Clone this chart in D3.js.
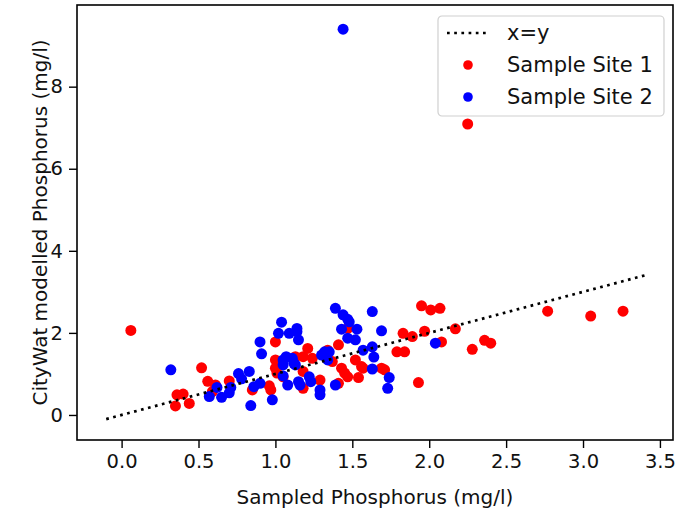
<!DOCTYPE html>
<html>
<head>
<meta charset="utf-8">
<script src="https://cdn.jsdelivr.net/npm/d3@7"></script>
<style>
  body { margin: 0; background: #fff; }
  text { font-family: "DejaVu Sans", sans-serif; }
</style>
</head>
<body>
<div id="chart"></div>
<script>
// Sample Site 1 (red), [sampled, modelled]
var site1 = [
  [0.06, 2.06], [0.35, 0.22], [0.36, 0.49], [0.40, 0.51], [0.44, 0.28],
  [0.52, 1.15], [0.56, 0.82], [0.59, 0.57], [0.61, 0.73], [0.70, 0.83],
  [0.85, 0.61], [0.96, 0.71], [0.97, 0.61], [1.00, 1.78], [1.00, 1.34],
  [1.00, 1.14], [1.01, 1.02], [1.05, 0.93], [1.13, 1.42], [1.18, 1.42],
  [1.21, 1.62], [1.24, 1.38], [1.18, 1.06], [1.18, 0.65], [1.29, 0.85],
  [1.34, 1.58], [1.37, 1.30], [1.41, 1.71], [1.47, 2.11], [1.52, 1.34],
  [1.56, 1.18], [1.57, 1.14], [1.43, 1.14], [1.45, 1.02], [1.47, 0.93],
  [1.54, 0.91], [1.41, 0.77], [1.69, 1.14], [1.71, 1.10], [1.79, 1.54],
  [1.84, 1.54], [1.83, 1.99], [1.89, 1.91], [1.95, 2.66], [2.01, 2.56],
  [2.07, 2.60], [1.97, 2.04], [2.08, 1.78], [2.17, 2.10], [2.28, 1.60],
  [2.36, 1.82], [2.40, 1.75], [1.93, 0.79], [2.77, 2.53], [3.05, 2.41],
  [3.26, 2.53], [2.25, 7.09]
];
// Sample Site 2 (blue)
var site2 = [
  [0.32, 1.10], [0.57, 0.45], [0.62, 0.67], [0.65, 0.43], [0.70, 0.54],
  [0.71, 0.67], [0.76, 1.01], [0.78, 0.88], [0.83, 1.06], [0.84, 0.23],
  [0.86, 0.69], [0.90, 0.77], [0.98, 0.37], [0.90, 1.78], [0.91, 1.49],
  [1.02, 1.99], [1.04, 2.26], [1.05, 1.34], [1.07, 1.42], [1.11, 1.38],
  [1.12, 1.26], [1.05, 1.22], [1.13, 1.22], [1.05, 0.95], [1.08, 0.73],
  [1.09, 1.99], [1.14, 2.03], [1.15, 1.83], [1.14, 2.11], [1.15, 0.81],
  [1.16, 0.73], [1.22, 0.93], [1.23, 0.81], [1.29, 0.61], [1.29, 0.49],
  [1.30, 1.46], [1.32, 1.54], [1.35, 1.54], [1.34, 1.34], [1.39, 2.60],
  [1.44, 2.44], [1.47, 2.33], [1.48, 2.27], [1.43, 2.09], [1.53, 2.09],
  [1.47, 1.87], [1.52, 1.83], [1.57, 1.58], [1.63, 2.52], [1.69, 2.05],
  [1.63, 1.66], [1.64, 1.41], [1.63, 1.12], [1.74, 0.91], [1.73, 0.65],
  [1.39, 0.73], [2.04, 1.75], [1.44, 9.40]
];
// x=y reference line end points
var lineX = [-0.1, 3.42];
var xTicks = [0, 0.5, 1, 1.5, 2, 2.5, 3, 3.5];
var yTicks = [0, 2, 4, 6, 8];
var legendLabels = ["x=y", "Sample Site 1", "Sample Site 2"];

function getConfig(){
    let width = 678, height = 515;
    let margin = {top: 5, right: 5, bottom: 75, left: 77};
    let plot = {};
    plot.w = width - margin.left - margin.right;
    plot.h = height - margin.top - margin.bottom;
    plot.tickSize = 19.5;
    plot.labelSize = 20;
    plot.legendSize = 21;
    return {width, height, margin, plot};
}

function showData(){
    let config = getConfig();
    let svg = d3.select("#chart").append("svg")
        .attr("width", config.width)
        .attr("height", config.height);

    let xScale = d3.scaleLinear().domain([-0.29, 3.585]).range([0, config.plot.w]);
    let yScale = d3.scaleLinear().domain([-0.61, 9.99]).range([config.plot.h, 0]);

    let g = svg.append("g")
        .attr("transform", `translate(${config.margin.left},${config.margin.top})`);

    // points: site 1 then site 2 on top
    g.append("g").selectAll("circle").data(site1).join("circle")
        .attr("cx", d => xScale(d[0]))
        .attr("cy", d => yScale(d[1]))
        .attr("r", 5.5)
        .attr("fill", "#ff0000");
    g.append("g").selectAll("circle").data(site2).join("circle")
        .attr("cx", d => xScale(d[0]))
        .attr("cy", d => yScale(d[1]))
        .attr("r", 5.5)
        .attr("fill", "#0000ff");

    // dotted x=y line (drawn above the scatter like matplotlib)
    g.append("line")
        .attr("x1", xScale(lineX[0])).attr("y1", yScale(lineX[0]))
        .attr("x2", xScale(lineX[1])).attr("y2", yScale(lineX[1]))
        .attr("stroke", "black")
        .attr("stroke-width", 2.7)
        .attr("stroke-dasharray", "2.7,4.5");

    // axes
    let xAx = g.append("g")
        .attr("transform", `translate(0,${config.plot.h})`)
        .call(d3.axisBottom(xScale).tickValues(xTicks).tickFormat(d3.format(".1f")).tickSize(8).tickPadding(6));
    let yAx = g.append("g")
        .call(d3.axisLeft(yScale).tickValues(yTicks).tickFormat(d3.format("d")).tickSize(8).tickPadding(6));
    [xAx, yAx].forEach(ax => {
        ax.select(".domain").remove();
        ax.selectAll(".tick line").attr("stroke", "black").attr("stroke-width", 1.4);
        ax.selectAll(".tick text")
          .attr("font-size", config.plot.tickSize)
          .attr("font-family", "DejaVu Sans")
          .attr("fill", "#111");
    });

    // frame
    g.append("rect")
        .attr("width", config.plot.w).attr("height", config.plot.h)
        .attr("fill", "none").attr("stroke", "black").attr("stroke-width", 1.6);

    // axis titles
    svg.append("text")
        .attr("x", config.margin.left + config.plot.w / 2)
        .attr("y", 504)
        .attr("text-anchor", "middle")
        .attr("font-size", config.plot.labelSize)
        .attr("fill", "#111")
        .text("Sampled Phosphorus (mg/l)");
    svg.append("text")
        .attr("transform", `translate(47,${config.margin.top + config.plot.h / 2}) rotate(-90)`)
        .attr("text-anchor", "middle")
        .attr("font-size", config.plot.labelSize)
        .attr("fill", "#111")
        .text("CityWat modelled Phosphorus (mg/l)");

    // legend
    let leg = svg.append("g").attr("transform", "translate(438,16)");
    leg.append("rect")
        .attr("width", 226).attr("height", 100)
        .attr("rx", 4)
        .attr("fill", "white").attr("fill-opacity", 0.8)
        .attr("stroke", "#d0d0d0").attr("stroke-width", 1.2);
    let rowY = [17, 49, 81];
    leg.append("line")
        .attr("x1", 9).attr("x2", 51)
        .attr("y1", rowY[0]).attr("y2", rowY[0])
        .attr("stroke", "black").attr("stroke-width", 2.7)
        .attr("stroke-dasharray", "2.7,4.5");
    leg.append("circle").attr("cx", 30).attr("cy", rowY[1]).attr("r", 4.8).attr("fill", "#ff0000");
    leg.append("circle").attr("cx", 30).attr("cy", rowY[2]).attr("r", 4.8).attr("fill", "#0000ff");
    leg.selectAll("text.lab").data(legendLabels).join("text")
        .attr("class", "lab")
        .attr("x", 69)
        .attr("y", (d, i) => rowY[i])
        .attr("dy", "0.35em")
        .attr("font-size", config.plot.legendSize)
        .attr("fill", "#111")
        .text(d => d);
}

showData();
</script>
</body>
</html>
